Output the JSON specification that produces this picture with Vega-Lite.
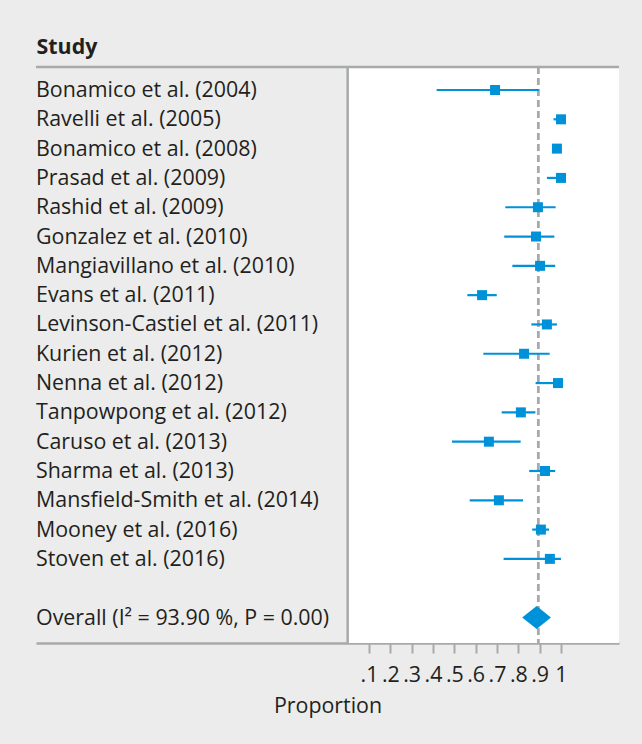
{
  "$schema": "https://vega.github.io/schema/vega-lite/v6.json",
  "width": 583,
  "height": 576,
  "autosize": {"type": "none"},
  "padding": {"left": 36, "top": 67, "right": 23, "bottom": 101},
  "background": "#ebeceb",
  "config": {
    "view": {"stroke": null},
    "font": "Open Sans",
    "axisX": {
      "grid": false,
      "domainColor": "#a8a9ab",
      "domainWidth": 2.5,
      "tickColor": "#a8a9ab",
      "tickWidth": 2,
      "tickSize": 10,
      "labelFontSize": 21.4,
      "labelColor": "#231f20",
      "labelFont": "Open Sans",
      "labelPadding": 11,
      "labelOverlap": false,
      "labelFlush": false,
      "labelBound": false,
      "titleFont": "Open Sans",
      "titleFontSize": 21.4,
      "titleFontWeight": "normal",
      "titleColor": "#231f20",
      "titleBaseline": "middle",
      "titleY": 63
    },
    "axisY": {
      "grid": false,
      "domain": false,
      "ticks": false,
      "labels": false,
      "titleFont": "Open Sans",
      "titleFontSize": 21.4,
      "titleFontWeight": "bold",
      "titleColor": "#231f20",
      "titleAngle": 0,
      "titleAlign": "left",
      "titleBaseline": "middle",
      "titleX": 0,
      "titleY": -20
    }
  },
  "datasets": {
    "studies": [
      {"study": "Bonamico et al. (2004)", "row": 1, "est": 0.691, "lo": 0.417, "hi": 0.897},
      {"study": "Ravelli et al. (2005)", "row": 2, "est": 1.0, "lo": 0.965, "hi": 1.0},
      {"study": "Bonamico et al. (2008)", "row": 3, "est": 0.981, "lo": 0.965, "hi": 0.995},
      {"study": "Prasad et al. (2009)", "row": 4, "est": 1.0, "lo": 0.934, "hi": 1.0},
      {"study": "Rashid et al. (2009)", "row": 5, "est": 0.892, "lo": 0.739, "hi": 0.975},
      {"study": "Gonzalez et al. (2010)", "row": 6, "est": 0.883, "lo": 0.734, "hi": 0.969},
      {"study": "Mangiavillano et al. (2010)", "row": 7, "est": 0.902, "lo": 0.772, "hi": 0.973},
      {"study": "Evans et al. (2011)", "row": 8, "est": 0.630, "lo": 0.561, "hi": 0.699},
      {"study": "Levinson-Castiel et al. (2011)", "row": 9, "est": 0.934, "lo": 0.861, "hi": 0.981},
      {"study": "Kurien et al. (2012)", "row": 10, "est": 0.827, "lo": 0.636, "hi": 0.947},
      {"study": "Nenna et al. (2012)", "row": 11, "est": 0.986, "lo": 0.881, "hi": 1.0},
      {"study": "Tanpowpong et al. (2012)", "row": 12, "est": 0.812, "lo": 0.722, "hi": 0.880},
      {"study": "Caruso et al. (2013)", "row": 13, "est": 0.662, "lo": 0.489, "hi": 0.811},
      {"study": "Sharma et al. (2013)", "row": 14, "est": 0.925, "lo": 0.851, "hi": 0.973},
      {"study": "Mansfield-Smith et al. (2014)", "row": 15, "est": 0.709, "lo": 0.572, "hi": 0.822},
      {"study": "Mooney et al. (2016)", "row": 16, "est": 0.906, "lo": 0.865, "hi": 0.944},
      {"study": "Stoven et al. (2016)", "row": 17, "est": 0.948, "lo": 0.731, "hi": 1.0},
      {"study": "Overall (I² = 93.90 %, P = 0.00)", "row": 19}
    ],
    "overall": [
      {"x": 0.818, "yTop": 19, "yBot": 19},
      {"x": 0.886, "yTop": 18.61, "yBot": 19.39},
      {"x": 0.953, "yTop": 19, "yBot": 19}
    ],
    "frame": [
      {"part": "plot", "x": 0, "x2": 1.272, "y": 0.215, "y2": 19.87},
      {"part": "top", "x": -1.461, "x2": 1.272, "y": 0.215, "y2": 0.215},
      {"part": "left", "x": 0, "x2": 0, "y": 0.215, "y2": 19.87},
      {"part": "ref", "x": 0.894, "x2": 0.894, "y": 0.215, "y2": 19.87}
    ]
  },
  "layer": [
    {
      "data": {"name": "frame"},
      "transform": [{"filter": "datum.part == 'plot'"}],
      "mark": {"type": "rect", "fill": "white"},
      "encoding": {
        "x": {
          "field": "x", "type": "quantitative", "title": "Proportion",
          "scale": {"domain": [-1.461, 1.272], "nice": false, "zero": false},
          "axis": {
            "values": [0.1, 0.2, 0.3, 0.4, 0.5, 0.6, 0.7, 0.8, 0.9, 1],
            "labelExpr": "datum.value == 1 ? '1' : replace(format(datum.value, '.1f'), '0.', '.')"
          }
        },
        "x2": {"field": "x2"},
        "y": {
          "field": "y", "type": "quantitative", "title": "Study",
          "scale": {"domain": [0.215, 19.87], "nice": false, "zero": false, "reverse": true}
        },
        "y2": {"field": "y2"}
      }
    },
    {
      "data": {"name": "frame"},
      "transform": [{"filter": "datum.part == 'top' || datum.part == 'left'"}],
      "mark": {"type": "rule", "color": "#a8a9ab", "strokeWidth": 2.5, "clip": false},
      "encoding": {
        "x": {"field": "x", "type": "quantitative", "title": "Proportion"},
        "x2": {"field": "x2"},
        "y": {"field": "y", "type": "quantitative", "title": "Study"},
        "y2": {"field": "y2"}
      }
    },
    {
      "data": {"name": "frame"},
      "transform": [{"filter": "datum.part == 'ref'"}],
      "mark": {"type": "rule", "color": "#a8a9ab", "strokeWidth": 2.8, "strokeDash": [7, 4]},
      "encoding": {
        "x": {"field": "x", "type": "quantitative", "title": "Proportion"},
        "y": {"field": "y", "type": "quantitative", "title": "Study"},
        "y2": {"field": "y2"}
      }
    },
    {
      "data": {"name": "studies"},
      "transform": [{"filter": "isValid(datum.est)"}],
      "mark": {"type": "rule", "color": "#0092d8", "strokeWidth": 2.2},
      "encoding": {
        "x": {"field": "lo", "type": "quantitative", "title": "Proportion"},
        "x2": {"field": "hi"},
        "y": {"field": "row", "type": "quantitative", "title": "Study"}
      }
    },
    {
      "data": {"name": "studies"},
      "transform": [{"filter": "isValid(datum.est)"}],
      "mark": {"type": "point", "shape": "square", "filled": true, "size": 100, "opacity": 1, "color": "#0092d8"},
      "encoding": {
        "x": {"field": "est", "type": "quantitative", "title": "Proportion"},
        "y": {"field": "row", "type": "quantitative", "title": "Study"}
      }
    },
    {
      "data": {"name": "overall"},
      "mark": {"type": "area", "orient": "vertical", "color": "#0092d8", "opacity": 1},
      "encoding": {
        "x": {"field": "x", "type": "quantitative", "title": "Proportion"},
        "y": {"field": "yTop", "type": "quantitative", "title": "Study"},
        "y2": {"field": "yBot"}
      }
    },
    {
      "data": {"name": "studies"},
      "mark": {"type": "text", "align": "left", "baseline": "middle", "fontSize": 21.4, "font": "Open Sans", "color": "#231f20", "clip": false, "dy": 1},
      "encoding": {
        "x": {"datum": -1.461, "type": "quantitative"},
        "y": {"field": "row", "type": "quantitative", "title": "Study"},
        "text": {"field": "study"}
      }
    }
  ]
}
